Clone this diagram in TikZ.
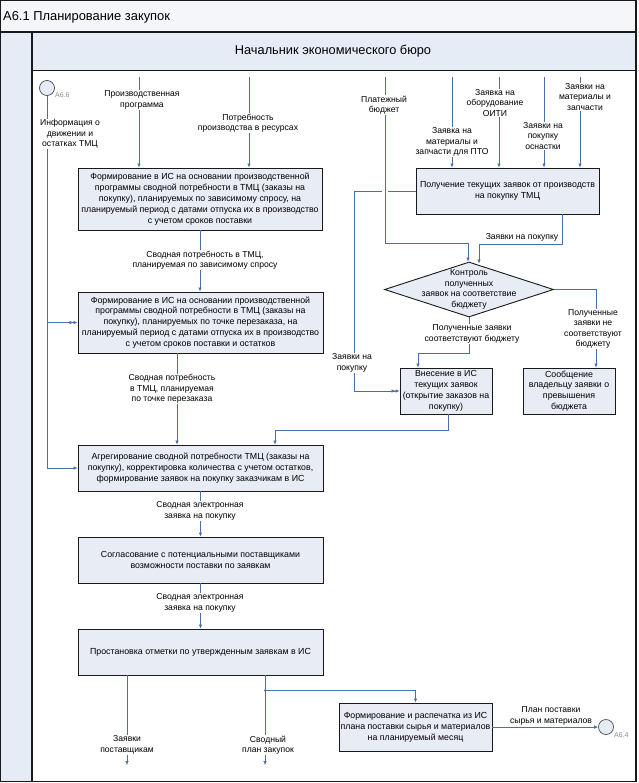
\documentclass[tikz,border=0pt]{standalone}
\usepackage{fontspec}
\setmainfont{Liberation Sans}
\usetikzlibrary{shapes.geometric,arrows.meta,calc}
\definecolor{flowc}{HTML}{4A6EA8}
\definecolor{boxf}{HTML}{E8ECF5}
\definecolor{lanef}{HTML}{E6ECF6}
\definecolor{titlef}{HTML}{F5F6FA}
\definecolor{refc}{HTML}{8A8A8A}
\begin{document}
\begin{tikzpicture}[x=1pt,y=-1pt,
  frame/.style={draw=black!90,line width=1.3pt},
  boxn/.style={draw=black!90,fill=boxf,line width=0.9pt,inner sep=0pt,align=center,
    font=\fontsize{8.8}{10.9}\selectfont},
  txt/.style={inner sep=0pt,align=center,font=\fontsize{8.7}{10.8}\selectfont},
  lbl/.style={fill=white,inner sep=1pt,align=center,font=\fontsize{8.6}{10.4}\selectfont},
  flow/.style={draw=flowc,line width=0.7pt},
  arr/.style={-{Latex[length=4pt,width=3.6pt]}},
  darr/.style={-{Latex[length=4pt,width=3.6pt]Latex[length=4pt,width=3.6pt]}},
  refn/.style={inner sep=0pt,text=refc,font=\fontsize{7}{8}\selectfont},
  term/.style={circle,draw=black!70,fill=lanef,minimum size=15pt,inner sep=0pt,line width=0.7pt}
]
\useasboundingbox (0,0) rectangle (638,783);
% background / frame
\fill[titlef] (0,0) rectangle (636,32);
\fill[lanef] (0,32) rectangle (32,781);
\fill[lanef] (32,32) rectangle (636,70);
\draw[frame] (0.6,0.6) rectangle (636,781.4);
\draw[frame] (0,32) -- (636,32);
\draw[frame] (32,32) -- (32,781);
\draw[draw=black!90,line width=0.9pt] (32,70) -- (636,70);
\node[anchor=west,inner sep=0pt,font=\fontsize{12.9}{14}\selectfont] (title) at (3,17) {А6.1 Планирование закупок};
\node[inner sep=0pt,font=\fontsize{12.8}{14}\selectfont] (lane) at (333,51) {Начальник экономического бюро};

% boxes
\node[boxn,minimum width=244pt,minimum height=62pt] (A) at (200,199) {Формирование в ИС на основании производственной\\программы сводной потребности в ТМЦ (заказы на\\покупку), планируемых по зависимому спросу, на\\планируемый период с датами отпуска их в производство\\с учетом сроков поставки};
\node[boxn,minimum width=245pt,minimum height=61pt] (B) at (200.5,322.5) {Формирование в ИС на основании производственной\\программы сводной потребности в ТМЦ (заказы на\\покупку), планируемых по точке перезаказа, на\\планируемый период с датами отпуска их в производство\\с учетом сроков поставки и остатков};
\node[boxn,minimum width=245pt,minimum height=46pt] (C) at (200.5,468) {Агрегирование сводной потребности ТМЦ (заказы на\\покупку), корректировка количества с учетом остатков,\\формирование заявок на покупку заказчикам в ИС};
\node[boxn,minimum width=245pt,minimum height=46pt] (D) at (200.5,560) {Согласование с потенциальными поставщиками\\возможности поставки по заявкам};
\node[boxn,minimum width=245pt,minimum height=46pt] (E) at (200.5,652) {Простановка отметки по утвержденным заявкам в ИС};
\node[boxn,minimum width=153pt,minimum height=48pt] (F) at (415.5,727) {Формирование и распечатка из ИС\\плана поставки сырья и материалов\\на планируемый месяц};
\node[boxn,minimum width=183pt,minimum height=46pt] (G) at (507.5,191) {Получение текущих заявок от производств\\на покупку ТМЦ};
\node[diamond,draw=black!90,fill=boxf,line width=0.9pt,minimum width=169pt,minimum height=55pt,inner sep=0pt] (dia) at (469,289.5) {};
\node[txt] (diat) at (dia) {Контроль\\полученных\\заявок на соответствие\\бюджету};
\node[boxn,minimum width=92pt,minimum height=46pt] (H) at (446,391) {Внесение в ИС\\текущих заявок\\(открытие заказов на\\покупку)};
\node[boxn,minimum width=92pt,minimum height=46pt] (I) at (569,391) {Сообщение\\владельцу заявки о\\превышения\\бюджета};

% terminals
\node[term] (S) at (47,88) {};
\node[refn,anchor=west] (Sl) at (55,95) {А6.6};
\node[term] (T) at (606,727) {};
\node[refn,anchor=west] (Tl) at (614,735) {А6.4};

% free ends
\coordinate (inProg) at (139,77);
\coordinate (inNeed) at (249,77);
\coordinate (inPay) at (385,77);
\coordinate (inPTO) at (452,77);
\coordinate (inOITI) at (499,77);
\coordinate (inOsn) at (544,77);
\coordinate (inMat) at (580,77);
\coordinate (out1) at (127,765);
\coordinate (out2) at (265,765);
\coordinate (bOut) at ($(B.south)+(-23.5,0)$);
\coordinate (hOut) at ($(H.south)+(2,0)$);
\coordinate (eBr) at ($(E.south -| out2)+(0,15)$);

% connectors
\draw[flow,arr] (S.south) |- (C.west);
\draw[flow,darr] (S.south |- B.west) -- (B.west);
\draw[flow,arr] (inProg) -- (inProg |- A.north);
\draw[flow,arr] (inNeed) -- (inNeed |- A.north);
\draw[flow,arr] (A.south) -- (A.south |- B.north);
\draw[flow,arr] (bOut) -- (bOut |- C.north);
\draw[flow,arr] (C.south) -- (D.north);
\draw[flow,arr] (D.south) -- (E.north);
\draw[flow,arr] (E.south -| out1) -- (out1);
\draw[flow,arr] (E.south -| out2) -- (out2);
\draw[flow,arr] (eBr) -| (F.north);
\fill[flowc] (eBr) circle (1.2pt);
\draw[flow,arr] (F.east) -- (T.west);
\draw[flow,arr] (inPTO) -- (inPTO |- G.north);
\draw[flow,arr] (inOITI) -- (inOITI |- G.north);
\draw[flow,arr] (inOsn) -- (inOsn |- G.north);
\draw[flow,arr] (inMat) -- (inMat |- G.north);
\draw[flow,darr] (G.west) -- ++(-61,0) |- (H.west);
\draw[flow,arr,preaction={draw=white,line width=6pt}] (inPay) -- ++(0,166) -| ($(dia.north)+(-1,0)$);
\draw[flow,arr] ($(G.south east)+(-37,0)$) -- ++(0,30) -| ($(dia.north)+(10,2)$);
\draw[flow,arr] (dia.south) -- ++(0,36) -| ($(H.north)+(-28,0)$);
\draw[flow,arr] (dia.east) -| ($(I.north)+(27,0)$);
\draw[flow,arr] (hOut) -- ++(0,16) -| ($(C.north)+(74.5,0)$);

% labels
\node[lbl] (l1) at (70,134) {Информация о\\движении и\\остатках ТМЦ};
\node[lbl] (l2) at (142,100) {Производственная\\программа};
\node[lbl] (l3) at (248,123) {Потребность\\производства в ресурсах};
\node[lbl] (l4) at (205,260) {Сводная потребность в ТМЦ,\\планируемая по зависимому спросу};
\node[lbl] (l5) at (172,389) {Сводная потребность\\в ТМЦ, планируемая\\по точке перезаказа};
\node[lbl] (l6) at (200,511) {Сводная электронная\\заявка на покупку};
\node[lbl] (l7) at (200,603) {Сводная электронная\\заявка на покупку};
\node[lbl] (l8) at (127,745) {Заявки\\поставщикам};
\node[lbl] (l9) at (268,745) {Сводный\\план закупок};
\node[lbl,fill=none] (l10) at (551,716) {План поставки\\сырья и материалов};
\node[lbl] (l11) at (384,105) {Платежный\\бюджет};
\node[lbl] (l12) at (452,142) {Заявка на\\материалы и\\запчасти для ПТО};
\node[lbl] (l13) at (495,103) {Заявка на\\оборудование\\ОИТИ};
\node[lbl] (l14) at (543,136) {Заявки на\\покупку\\оснастки};
\node[lbl] (l15) at (585,97) {Заявки на\\материалы и\\запчасти};
\node[lbl,fill=none] (l16) at (522,237) {Заявки на покупку};
\node[lbl] (l17) at (352,363) {Заявки на\\покупку};
\node[lbl] (l18) at (472,334) {Полученные заявки\\соответствуют бюджету};
\node[lbl] (l19) at (593,329) {Полученные\\заявки не\\соответствуют\\бюджету};
\end{tikzpicture}
\end{document}
